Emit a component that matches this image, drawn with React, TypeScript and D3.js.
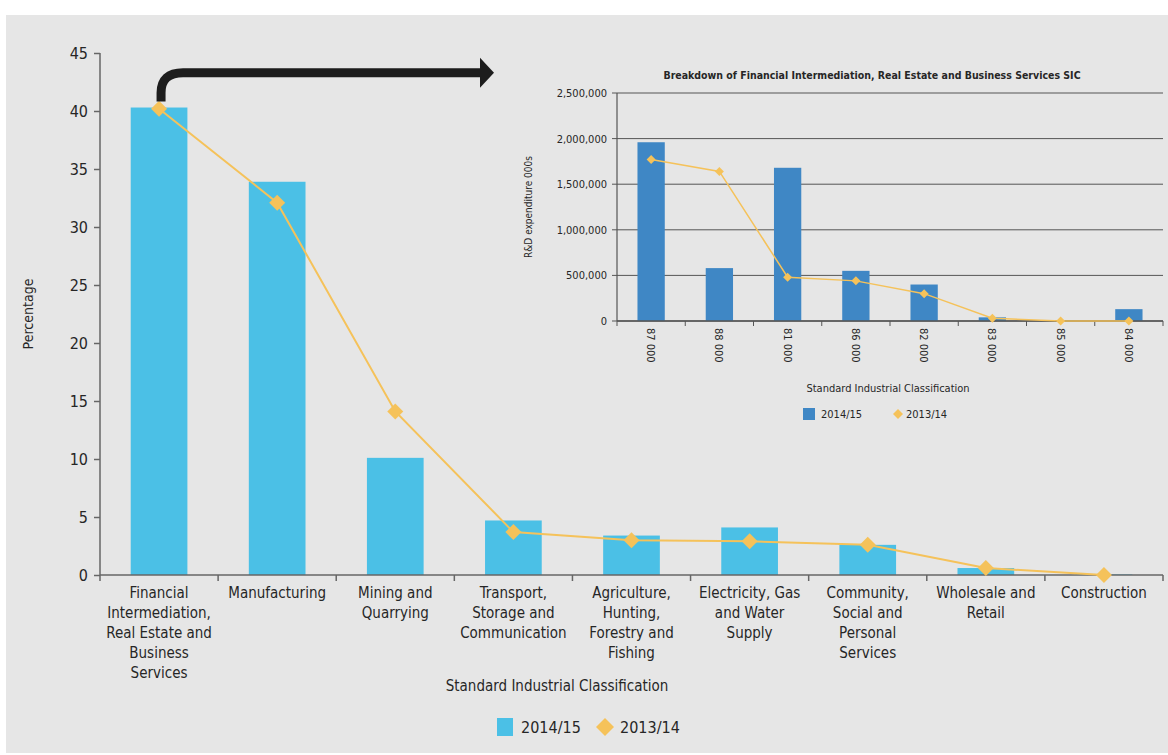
import React from 'react';
import * as d3 from 'd3';

const useD3 = (renderChart: any, dependencies: any[]) => {
  const ref = React.useRef<SVGSVGElement>(null);
  React.useEffect(() => {
    renderChart(d3.select(ref.current));
  }, dependencies);
  return ref;
};

// main chart: share of R&D by sector (%)
const sectors = ['fin', 'man', 'min', 'tra', 'agr', 'ele', 'com', 'who', 'con'];
const sectorLabels = [
  ['Financial', 'Intermediation,', 'Real Estate and', 'Business', 'Services'],
  ['Manufacturing'],
  ['Mining and', 'Quarrying'],
  ['Transport,', 'Storage and', 'Communication'],
  ['Agriculture,', 'Hunting,', 'Forestry and', 'Fishing'],
  ['Electricity, Gas', 'and Water', 'Supply'],
  ['Community,', 'Social and', 'Personal', 'Services'],
  ['Wholesale and', 'Retail'],
  ['Construction'],
];
const share1415 = [40.3, 33.9, 10.1, 4.7, 3.4, 4.1, 2.6, 0.6, 0.05];
const share1314 = [40.2, 32.1, 14.1, 3.7, 3.0, 2.9, 2.6, 0.6, 0];
const percentTicks = [0, 5, 10, 15, 20, 25, 30, 35, 40, 45];

// inset: breakdown of financial intermediation SIC (R&D 000s)
const sicCodes = ['87 000', '88 000', '81 000', '86 000', '82 000', '83 000', '85 000', '84 000'];
const spend1415 = [1960000, 580000, 1680000, 550000, 400000, 40000, 5000, 130000];
const spend1314 = [1770000, 1640000, 480000, 440000, 300000, 30000, 0, 0];
const spendTicks = [0, 500000, 1000000, 1500000, 2000000, 2500000];

const FONT = '"Liberation Sans Narrow", "DejaVu Sans Condensed", "Roboto Condensed", sans-serif';
const TEXT = '#262626';
const AXIS = '#666';
const BAR_MAIN = '#4bc0e6';
const BAR_INSET = '#3f87c5';
const GOLD = '#f5c25a';

const diamond = (cx: number, cy: number, r: number) =>
  `M${cx},${cy - r}L${cx + r},${cy}L${cx},${cy + r}L${cx - r},${cy}Z`;

const renderChart = (svg: any) => {
  svg.selectAll('*').remove();
  svg.append('rect').attr('x', 6).attr('y', 15).attr('width', 1162).attr('height', 738).attr('fill', '#e6e6e6');

  const g = svg.append('g').style('font-family', FONT).attr('fill', TEXT);

  // ---------- main chart ----------
  const x = d3.scaleBand().domain(sectors).range([100, 1163]);
  const y = d3.scaleLinear().domain([0, 45]).range([575, 53]);
  const bw = x.bandwidth() * 0.48;
  const cx = (i: number) => (x(sectors[i]) as number) + x.bandwidth() / 2;

  g.append('g').selectAll('rect').data(share1415).join('rect')
    .attr('x', (_: any, i: number) => cx(i) - bw / 2)
    .attr('y', (d: number) => y(d))
    .attr('width', bw)
    .attr('height', (d: number) => y(0) - y(d))
    .attr('fill', BAR_MAIN);

  // y axis
  const yAxis = g.append('g').attr('transform', 'translate(100,0)')
    .call(d3.axisLeft(y).tickValues(percentTicks).tickSize(6).tickSizeOuter(0).tickPadding(6));
  yAxis.select('.domain').attr('stroke', AXIS).attr('stroke-width', 1.5).attr('d', `M0,${y(45)}V${y(0)}`);
  yAxis.selectAll('line').attr('stroke', AXIS).attr('stroke-width', 1.5);
  yAxis.selectAll('text').style('font-family', FONT).style('font-size', '16px').attr('fill', TEXT);

  // x axis
  const xa = g.append('g');
  xa.append('line').attr('x1', 100).attr('x2', 1163).attr('y1', y(0)).attr('y2', y(0))
    .attr('stroke', AXIS).attr('stroke-width', 1.5);
  const edges = [...sectors.map(s => x(s) as number), 1163];
  xa.selectAll('.tk').data(edges).join('line')
    .attr('x1', (d: number) => d).attr('x2', (d: number) => d)
    .attr('y1', y(0)).attr('y2', y(0) + 6)
    .attr('stroke', AXIS).attr('stroke-width', 1.5);

  sectorLabels.forEach((lines, i) => {
    const t = xa.append('text').attr('text-anchor', 'middle').style('font-size', '15px');
    lines.forEach((ln, j) => {
      t.append('tspan').attr('x', cx(i)).attr('y', 598 + j * 20).text(ln);
    });
  });

  // 2013/14 line
  const line = d3.line<number>().x((_, i) => cx(i)).y(d => y(d));
  g.append('path').attr('d', line(share1314)).attr('fill', 'none').attr('stroke', GOLD).attr('stroke-width', 2);
  g.append('g').selectAll('path').data(share1314).join('path')
    .attr('d', (d: number, i: number) => diamond(cx(i), y(d), 8))
    .attr('fill', GOLD);

  g.append('text').attr('transform', `translate(33,${y(22.5)}) rotate(-90)`)
    .attr('text-anchor', 'middle').style('font-size', '14px').text('Percentage');
  g.append('text').attr('x', 557).attr('y', 691).attr('text-anchor', 'middle')
    .style('font-size', '15px').text('Standard Industrial Classification');

  // legend
  g.append('rect').attr('x', 497).attr('y', 718).attr('width', 16).attr('height', 18).attr('fill', BAR_MAIN);
  g.append('text').attr('x', 521).attr('y', 733).style('font-size', '16px').text('2014/15');
  g.append('path').attr('d', diamond(605, 727, 9)).attr('fill', GOLD);
  g.append('text').attr('x', 620).attr('y', 733).style('font-size', '16px').text('2013/14');

  // arrow from first sector to the inset
  const ax = cx(0) + 2;
  const ay = y(share1415[0]) - 6;
  const hy = y(43.3);
  g.append('path').attr('d', `M${ax},${ay}V${hy + 20}Q${ax},${hy} ${ax + 22},${hy}H482`)
    .attr('fill', 'none').attr('stroke', '#1d1d1d').attr('stroke-width', 9);
  g.append('path').attr('d', `M480,${hy - 15}L494,${hy}L480,${hy + 15}Z`).attr('fill', '#1d1d1d');

  // ---------- inset ----------
  const ix = d3.scaleBand().domain(sicCodes).range([617, 1163]);
  const iy = d3.scaleLinear().domain([0, 2500000]).range([321, 93]);
  const ibw = ix.bandwidth() * 0.4;
  const icx = (i: number) => (ix(sicCodes[i]) as number) + ix.bandwidth() / 2;

  const ins = g.append('g');
  ins.append('text').attr('x', 872).attr('y', 79).attr('text-anchor', 'middle')
    .style('font-size', '10.5px').style('font-weight', 'bold')
    .text('Breakdown of Financial Intermediation, Real Estate and Business Services SIC');

  ins.selectAll('.grid').data(spendTicks).join('line')
    .attr('x1', 612).attr('x2', 1163)
    .attr('y1', (d: number) => iy(d)).attr('y2', (d: number) => iy(d))
    .attr('stroke', '#555').attr('stroke-width', 1);
  ins.selectAll('.ytl').data(spendTicks).join('text')
    .attr('x', 607).attr('y', (d: number) => iy(d) + 4).attr('text-anchor', 'end')
    .style('font-size', '11px').text((d: number) => d3.format(',')(d));

  ins.append('g').selectAll('rect').data(spend1415).join('rect')
    .attr('x', (_: any, i: number) => icx(i) - ibw / 2)
    .attr('y', (d: number) => iy(d))
    .attr('width', ibw)
    .attr('height', (d: number) => iy(0) - iy(d))
    .attr('fill', BAR_INSET);

  ins.append('line').attr('x1', 617).attr('x2', 617).attr('y1', iy(2500000)).attr('y2', iy(0))
    .attr('stroke', '#555').attr('stroke-width', 1.2);
  ins.append('line').attr('x1', 617).attr('x2', 1163).attr('y1', iy(0)).attr('y2', iy(0))
    .attr('stroke', '#555').attr('stroke-width', 1.5);
  const iedges = [...sicCodes.map(s => ix(s) as number), 1163];
  ins.selectAll('.itk').data(iedges).join('line')
    .attr('x1', (d: number) => d).attr('x2', (d: number) => d)
    .attr('y1', iy(0)).attr('y2', iy(0) + 5)
    .attr('stroke', '#555').attr('stroke-width', 1);

  ins.selectAll('.xtl').data(sicCodes).join('text')
    .attr('transform', (_: any, i: number) => `translate(${icx(i) - 4},328) rotate(90)`)
    .style('font-size', '11px').text((d: string) => d);

  const iline = d3.line<number>().x((_, i) => icx(i)).y(d => iy(d));
  ins.append('path').attr('d', iline(spend1314)).attr('fill', 'none').attr('stroke', GOLD).attr('stroke-width', 1.5);
  ins.append('g').selectAll('path').data(spend1314).join('path')
    .attr('d', (d: number, i: number) => diamond(icx(i), iy(d), 4.5))
    .attr('fill', GOLD);

  ins.append('text').attr('transform', `translate(532,${iy(1250000)}) rotate(-90)`)
    .attr('text-anchor', 'middle').style('font-size', '10px').text('R&D expenditure 000s');
  ins.append('text').attr('x', 888).attr('y', 392).attr('text-anchor', 'middle')
    .style('font-size', '11px').text('Standard Industrial Classification');

  ins.append('rect').attr('x', 803).attr('y', 408).attr('width', 12).attr('height', 12).attr('fill', BAR_INSET);
  ins.append('text').attr('x', 821).attr('y', 418).style('font-size', '11px').text('2014/15');
  ins.append('path').attr('d', diamond(898, 414, 5)).attr('fill', GOLD);
  ins.append('text').attr('x', 906).attr('y', 418).style('font-size', '11px').text('2013/14');
};

const App: React.FC = () => {
  const ref = useD3(renderChart, []);
  return (
    <svg
      ref={ref}
      width={1168}
      height={755}
      style={{ position: 'absolute', left: 0, top: 0, background: '#fff' }}
    />
  );
};

export default App;
